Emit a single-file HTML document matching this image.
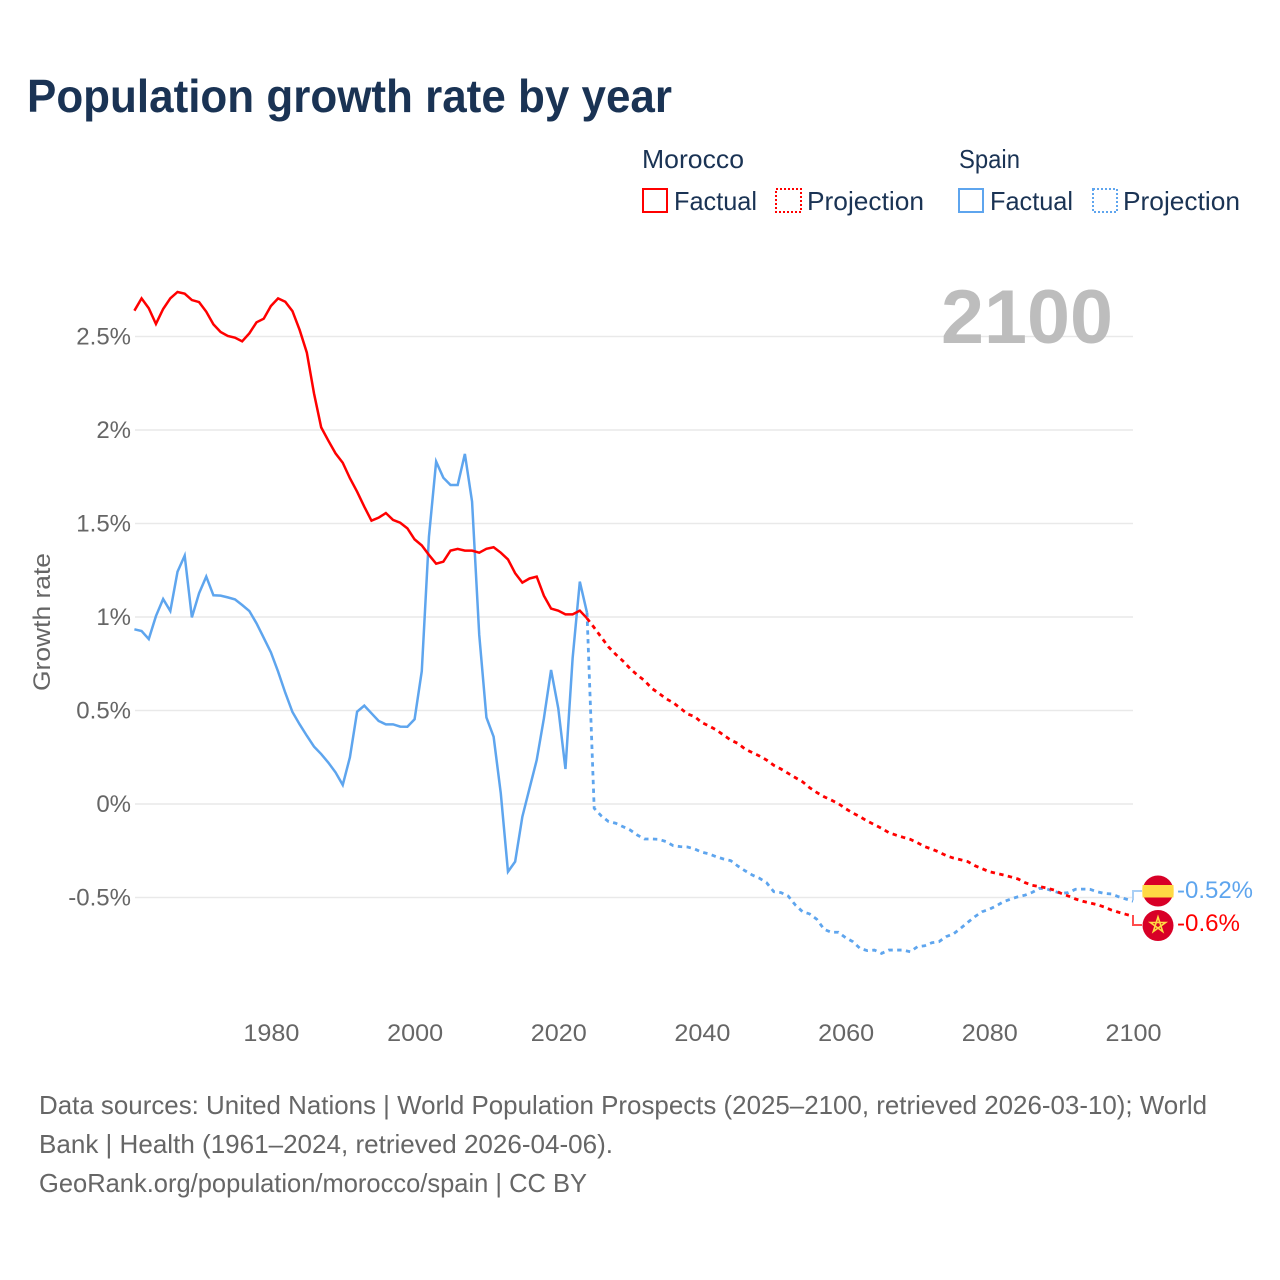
<!DOCTYPE html>
<html lang="en">
<head>
<meta charset="utf-8">
<title>Population growth rate by year</title>
<style>
html,body{margin:0;padding:0;background:#fff;}
svg{display:block;font-family:"Liberation Sans",sans-serif;}
</style>
</head>
<body>
<svg id="chart" width="1280" height="1280" viewBox="0 0 1280 1280" xmlns="http://www.w3.org/2000/svg">
  <rect x="0" y="0" width="1280" height="1280" fill="#ffffff"/>
  <text x="27" y="112" font-size="46" font-weight="700" fill="#1a3354" textLength="645" lengthAdjust="spacingAndGlyphs">Population growth rate by year</text>

  <g font-size="26" fill="#1a3354">
    <text x="642" y="168" textLength="102" lengthAdjust="spacingAndGlyphs">Morocco</text>
    <text x="959" y="168" textLength="61" lengthAdjust="spacingAndGlyphs">Spain</text>
    <rect x="643" y="189" width="24" height="23" fill="none" stroke="#ff0000" stroke-width="2"/>
    <text x="674" y="210" textLength="83" lengthAdjust="spacingAndGlyphs">Factual</text>
    <rect x="776" y="189" width="25" height="23" fill="none" stroke="#ff0000" stroke-width="2" stroke-dasharray="2 2"/>
    <text x="807" y="210" textLength="117" lengthAdjust="spacingAndGlyphs">Projection</text>
    <rect x="959" y="189" width="24" height="23" fill="none" stroke="#5ea5ee" stroke-width="2"/>
    <text x="990" y="210" textLength="83" lengthAdjust="spacingAndGlyphs">Factual</text>
    <rect x="1093" y="189" width="24" height="23" fill="none" stroke="#5ea5ee" stroke-width="2" stroke-dasharray="2 2"/>
    <text x="1123" y="210" textLength="117" lengthAdjust="spacingAndGlyphs">Projection</text>
  </g>

  <g id="grid"></g>
  <g id="y-ticks"></g>
  <g id="x-ticks"></g>

  <text x="941" y="343" font-size="76" font-weight="700" fill="#bdbdbd" textLength="172" lengthAdjust="spacingAndGlyphs">2100</text>
  <text transform="translate(50,622) rotate(-90)" text-anchor="middle" font-size="24" fill="#666666" textLength="138" lengthAdjust="spacingAndGlyphs">Growth rate</text>

  <g id="series"></g>

  <g>
    <polyline points="1133,900 1133,891 1142,891" fill="none" stroke="#a9cff5" stroke-width="2"/>
    <circle cx="1158" cy="891" r="15.5" fill="#d80027"/>
    <path d="M1142.6 885H1173.4Q1174 891 1173.4 897.5H1142.6Q1142 891 1142.6 885Z" fill="#ffda44"/>
    <text x="1177" y="898" font-size="24" fill="#5ea5ee" textLength="76" lengthAdjust="spacingAndGlyphs">-0.52%</text>
  </g>
  <g>
    <polyline points="1133,915 1133,925 1142,925" fill="none" stroke="#ff4d4d" stroke-width="2"/>
    <circle cx="1158" cy="925.5" r="15.5" fill="#d80027"/>
    <polygon points="1158,917 1162.7,931.5 1150.4,922.5 1165.6,922.5 1153.3,931.5" fill="none" stroke="#ffda44" stroke-width="1.6"/>
    <text x="1177" y="931" font-size="24" fill="#ff0000" textLength="63" lengthAdjust="spacingAndGlyphs">-0.6%</text>
  </g>

  <g font-size="26" fill="#666666">
    <text x="39" y="1114" textLength="1168" lengthAdjust="spacingAndGlyphs">Data sources: United Nations | World Population Prospects (2025–2100, retrieved 2026-03-10); World</text>
    <text x="39" y="1153" textLength="574" lengthAdjust="spacingAndGlyphs">Bank | Health (1961–2024, retrieved 2026-04-06).</text>
    <text x="39" y="1192" textLength="548" lengthAdjust="spacingAndGlyphs">GeoRank.org/population/morocco/spain | CC BY</text>
  </g>
</svg>
<script>
const yTickValues = [2.5, 2, 1.5, 1, 0.5, 0, -0.5];
const yTickLabels = ["2.5%", "2%", "1.5%", "1%", "0.5%", "0%", "-0.5%"];
const xTickYears = [1980, 2000, 2020, 2040, 2060, 2080, 2100];
const factualStartYear = 1961;
const projectionStartYear = 2025;
const moroccoFactual = [2.638,2.704,2.651,2.567,2.647,2.704,2.738,2.729,2.695,2.684,2.633,2.565,2.524,2.503,2.494,2.474,2.517,2.576,2.595,2.663,2.704,2.686,2.636,2.535,2.414,2.196,2.014,1.943,1.875,1.825,1.742,1.670,1.590,1.515,1.531,1.556,1.519,1.504,1.474,1.415,1.383,1.332,1.285,1.296,1.355,1.364,1.355,1.355,1.344,1.365,1.373,1.344,1.308,1.234,1.184,1.206,1.216,1.114,1.045,1.034,1.014,1.014,1.034,0.993];
const moroccoProjection = [0.943,0.891,0.840,0.800,0.765,0.724,0.690,0.660,0.619,0.592,0.563,0.542,0.512,0.481,0.467,0.435,0.417,0.396,0.369,0.342,0.324,0.294,0.275,0.257,0.235,0.207,0.187,0.164,0.141,0.119,0.087,0.061,0.039,0.021,0.002,-0.025,-0.048,-0.068,-0.091,-0.110,-0.130,-0.153,-0.166,-0.178,-0.189,-0.207,-0.228,-0.241,-0.257,-0.276,-0.289,-0.298,-0.308,-0.330,-0.346,-0.362,-0.371,-0.380,-0.390,-0.401,-0.421,-0.435,-0.442,-0.449,-0.460,-0.478,-0.492,-0.508,-0.520,-0.529,-0.538,-0.551,-0.567,-0.579,-0.590,-0.600];
const spainFactual = [0.934,0.925,0.882,1.005,1.096,1.032,1.242,1.328,0.998,1.127,1.216,1.116,1.114,1.105,1.094,1.064,1.032,0.966,0.889,0.811,0.708,0.595,0.492,0.426,0.365,0.307,0.267,0.221,0.169,0.102,0.250,0.494,0.526,0.485,0.444,0.426,0.426,0.414,0.413,0.453,0.710,1.430,1.831,1.745,1.706,1.706,1.872,1.617,0.904,0.463,0.360,0.057,-0.362,-0.308,-0.068,0.084,0.235,0.458,0.717,0.512,0.187,0.780,1.189,1.023];
const spainProjection = [-0.023,-0.064,-0.094,-0.103,-0.121,-0.139,-0.166,-0.187,-0.187,-0.189,-0.201,-0.223,-0.228,-0.230,-0.241,-0.258,-0.267,-0.282,-0.294,-0.303,-0.332,-0.357,-0.380,-0.397,-0.421,-0.469,-0.474,-0.492,-0.540,-0.576,-0.588,-0.617,-0.670,-0.686,-0.686,-0.715,-0.736,-0.772,-0.784,-0.781,-0.799,-0.781,-0.781,-0.781,-0.790,-0.763,-0.758,-0.742,-0.736,-0.709,-0.695,-0.665,-0.633,-0.602,-0.576,-0.563,-0.544,-0.522,-0.508,-0.496,-0.487,-0.472,-0.451,-0.455,-0.467,-0.478,-0.474,-0.456,-0.455,-0.456,-0.469,-0.478,-0.481,-0.496,-0.508,-0.520];

const NS = "http://www.w3.org/2000/svg";
const plotLeft = 134.4, plotRight = 1133;
function xScale(year) { return plotLeft + (year - 1961) * (plotRight - plotLeft) / 139; }
function yScale(value) { return 804 - value * 187; }

const gridGroup = document.getElementById("grid");
const yTickGroup = document.getElementById("y-ticks");
yTickValues.forEach(function (value, i) {
  const line = document.createElementNS(NS, "line");
  
  
  line.setAttribute("x1", 135);
  line.setAttribute("x2", plotRight);
  line.setAttribute("y1", yScale(value));
  line.setAttribute("y2", yScale(value));
  line.setAttribute("stroke", "#e9e9e9");
  line.setAttribute("stroke-width", "1.6");
  gridGroup.appendChild(line);
  const label = document.createElementNS(NS, "text");
  
  
  label.setAttribute("x", 131);
  label.setAttribute("y", yScale(value) + 8);
  label.setAttribute("text-anchor", "end");
  label.setAttribute("font-size", "24");
  label.setAttribute("fill", "#666666");
  label.textContent = yTickLabels[i];
  yTickGroup.appendChild(label);
});

const xTickGroup = document.getElementById("x-ticks");
xTickYears.forEach(function (year) {
  const label = document.createElementNS(NS, "text");
  
  
  label.setAttribute("x", xScale(year) + 0.5);
  label.setAttribute("y", 1041);
  label.setAttribute("text-anchor", "middle");
  label.setAttribute("font-size", "24");
  label.setAttribute("fill", "#666666");
  label.setAttribute("textLength", "56");
  label.setAttribute("lengthAdjust", "spacingAndGlyphs");
  label.textContent = String(year);
  xTickGroup.appendChild(label);
});

function pointsFor(values, startYear) {
  return values.map(function (v, i) {
    return xScale(startYear + i).toFixed(2) + "," + yScale(v).toFixed(2);
  });
}

const seriesGroup = document.getElementById("series");

const spainFactualLine = document.createElementNS(NS, "polyline");


spainFactualLine.setAttribute("points", pointsFor(spainFactual, factualStartYear).join(" "));
spainFactualLine.setAttribute("fill", "none");
spainFactualLine.setAttribute("stroke", "#5ea5ee");
spainFactualLine.setAttribute("stroke-width", "2.5");
seriesGroup.appendChild(spainFactualLine);

const spainProjectionLine = document.createElementNS(NS, "polyline");


spainProjectionLine.setAttribute("points", pointsFor(spainFactual.slice(-1).concat(spainProjection), projectionStartYear - 1).join(" "));
spainProjectionLine.setAttribute("fill", "none");
spainProjectionLine.setAttribute("stroke", "#5ea5ee");
spainProjectionLine.setAttribute("stroke-width", "2.8");
spainProjectionLine.setAttribute("stroke-dasharray", "4.4 4.4");
seriesGroup.appendChild(spainProjectionLine);

const moroccoFactualLine = document.createElementNS(NS, "polyline");


moroccoFactualLine.setAttribute("points", pointsFor(moroccoFactual, factualStartYear).join(" "));
moroccoFactualLine.setAttribute("fill", "none");
moroccoFactualLine.setAttribute("stroke", "#ff0000");
moroccoFactualLine.setAttribute("stroke-width", "2.5");
seriesGroup.appendChild(moroccoFactualLine);

const moroccoProjectionLine = document.createElementNS(NS, "polyline");


moroccoProjectionLine.setAttribute("points", pointsFor(moroccoFactual.slice(-1).concat(moroccoProjection), projectionStartYear - 1).join(" "));
moroccoProjectionLine.setAttribute("fill", "none");
moroccoProjectionLine.setAttribute("stroke", "#ff0000");
moroccoProjectionLine.setAttribute("stroke-width", "2.8");
moroccoProjectionLine.setAttribute("stroke-dasharray", "4.4 4.4");
seriesGroup.appendChild(moroccoProjectionLine);
</script>
</body>
</html>
